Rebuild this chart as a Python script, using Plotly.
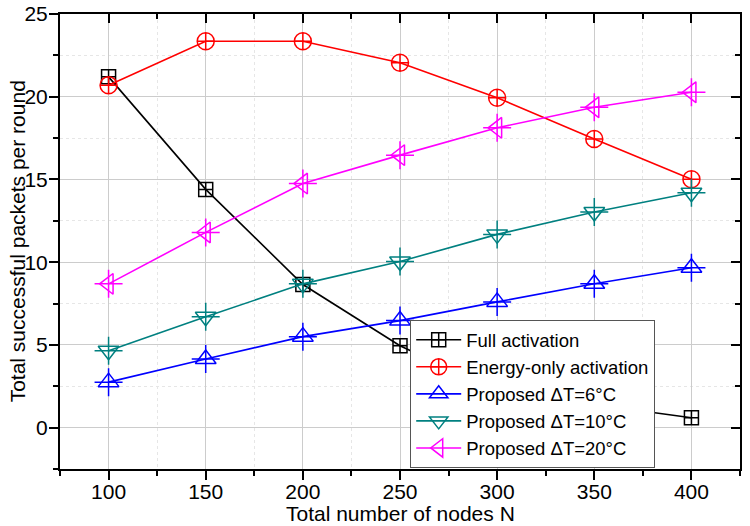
import plotly.graph_objects as go

nodes = [100, 150, 200, 250, 300, 350, 400]
full_activation = [21.2, 14.4, 8.65, 4.95, 2.2, 1.4, 0.6]
energy_only = [20.7, 23.35, 23.35, 22.05, 19.94, 17.44, 15.01]
proposed_6 = [2.75, 4.15, 5.5, 6.47, 7.6, 8.7, 9.66]
proposed_10 = [4.65, 6.7, 8.69, 10.04, 11.68, 13.03, 14.2]
proposed_20 = [8.69, 11.8, 14.75, 16.47, 18.12, 19.36, 20.27]

series = [
    ("Full activation", full_activation, "#000000", "square-cross-open", 14, False),
    ("Energy-only activation", energy_only, "#FF0000", "circle-cross-open", 17, False),
    ("Proposed \u0394T=6\u00b0C", proposed_6, "#0000FF", "triangle-up-open", 18, True),
    ("Proposed \u0394T=10\u00b0C", proposed_10, "#008080", "triangle-down-open", 18, True),
    ("Proposed \u0394T=20\u00b0C", proposed_20, "#FF00FF", "triangle-left-open", 18, True),
]

fig = go.Figure()
for name, vals, color, sym, size, extra_cross in series:
    fig.add_trace(go.Scatter(
        x=nodes, y=vals, name=name, mode="lines+markers",
        line=dict(color=color, width=1.6),
        marker=dict(symbol=sym, size=size, color=color, line=dict(width=1.5, color=color)),
    ))
    if extra_cross:
        fig.add_trace(go.Scatter(
            x=nodes, y=vals, mode="markers", showlegend=False, hoverinfo="skip",
            marker=dict(symbol="cross-thin-open", size=size + 2, color=color,
                        line=dict(width=1.5, color=color)),
        ))

# helper trace for mirrored top/right axes with inward ticks
fig.add_trace(go.Scatter(x=[], y=[], xaxis="x2", yaxis="y2", showlegend=False, hoverinfo="skip"))

font = "Liberation Sans, Arial, sans-serif"
fig.update_layout(
    width=750, height=526,
    margin=dict(l=60, r=10, t=14, b=57, autoexpand=False),
    paper_bgcolor="white", plot_bgcolor="white",
    font=dict(family=font, size=21, color="black"),
    showlegend=True,
    legend=dict(x=0.515, y=0.327, xanchor="left", yanchor="top",
                bordercolor="#555555", borderwidth=1, bgcolor="white",
                font=dict(size=18.5), tracegroupgap=0, itemwidth=45),
    xaxis=dict(
        range=[75, 425], tickvals=[100, 150, 200, 250, 300, 350, 400],
        ticks="outside", ticklen=9, tickwidth=1.5, tickcolor="black",
        ticklabelstandoff=-6,
        showline=True, linecolor="black", linewidth=2,
        showgrid=True, gridcolor="#cccccc", gridwidth=1, automargin=False,
        minor=dict(tickvals=[75, 125, 175, 225, 275, 325, 375, 425], ticks="outside", ticklen=5,
                   tickcolor="black", showgrid=True, gridcolor="#e6e6e6", griddash="dot"),
        tickfont=dict(size=21), zeroline=False,
    ),
    yaxis=dict(
        range=[-2.5, 25], tickvals=[0, 5, 10, 15, 20, 25],
        ticks="outside", ticklen=9, tickwidth=1.5, tickcolor="black",
        ticklabelstandoff=-3,
        showline=True, linecolor="black", linewidth=2,
        showgrid=True, gridcolor="#cccccc", gridwidth=1, automargin=False,
        minor=dict(tickvals=[-2.5, 2.5, 7.5, 12.5, 17.5, 22.5], ticks="outside", ticklen=5,
                   tickcolor="black", showgrid=True, gridcolor="#e6e6e6", griddash="dot"),
        tickfont=dict(size=21), zeroline=False,
    ),
    xaxis2=dict(
        range=[75, 425], overlaying="x", side="top", anchor="y",
        tickvals=[100, 150, 200, 250, 300, 350, 400], ticks="inside", ticklen=9,
        tickwidth=1.5, tickcolor="black", showticklabels=False,
        showline=True, linecolor="black", linewidth=2, showgrid=False, zeroline=False,
        minor=dict(tickvals=[75, 125, 175, 225, 275, 325, 375, 425], ticks="inside", ticklen=5, tickcolor="black"),
    ),
    yaxis2=dict(
        range=[-2.5, 25], overlaying="y", side="right", anchor="x",
        tickvals=[0, 5, 10, 15, 20, 25], ticks="inside", ticklen=9,
        tickwidth=1.5, tickcolor="black", showticklabels=False,
        showline=True, linecolor="black", linewidth=2, showgrid=False, zeroline=False,
        minor=dict(tickvals=[-2.5, 2.5, 7.5, 12.5, 17.5, 22.5], ticks="inside", ticklen=5, tickcolor="black"),
    ),
    annotations=[
        dict(text="Total number of nodes N", xref="paper", yref="paper",
             x=0.5, y=-0.097, xanchor="center", yanchor="middle",
             showarrow=False, font=dict(size=21)),
        dict(text="Total successful packets per round", xref="paper", yref="paper",
             x=-0.062, y=0.5, xanchor="center", yanchor="middle", textangle=-90,
             showarrow=False, font=dict(size=21)),
    ],
)

fig.write_html("out.html")
